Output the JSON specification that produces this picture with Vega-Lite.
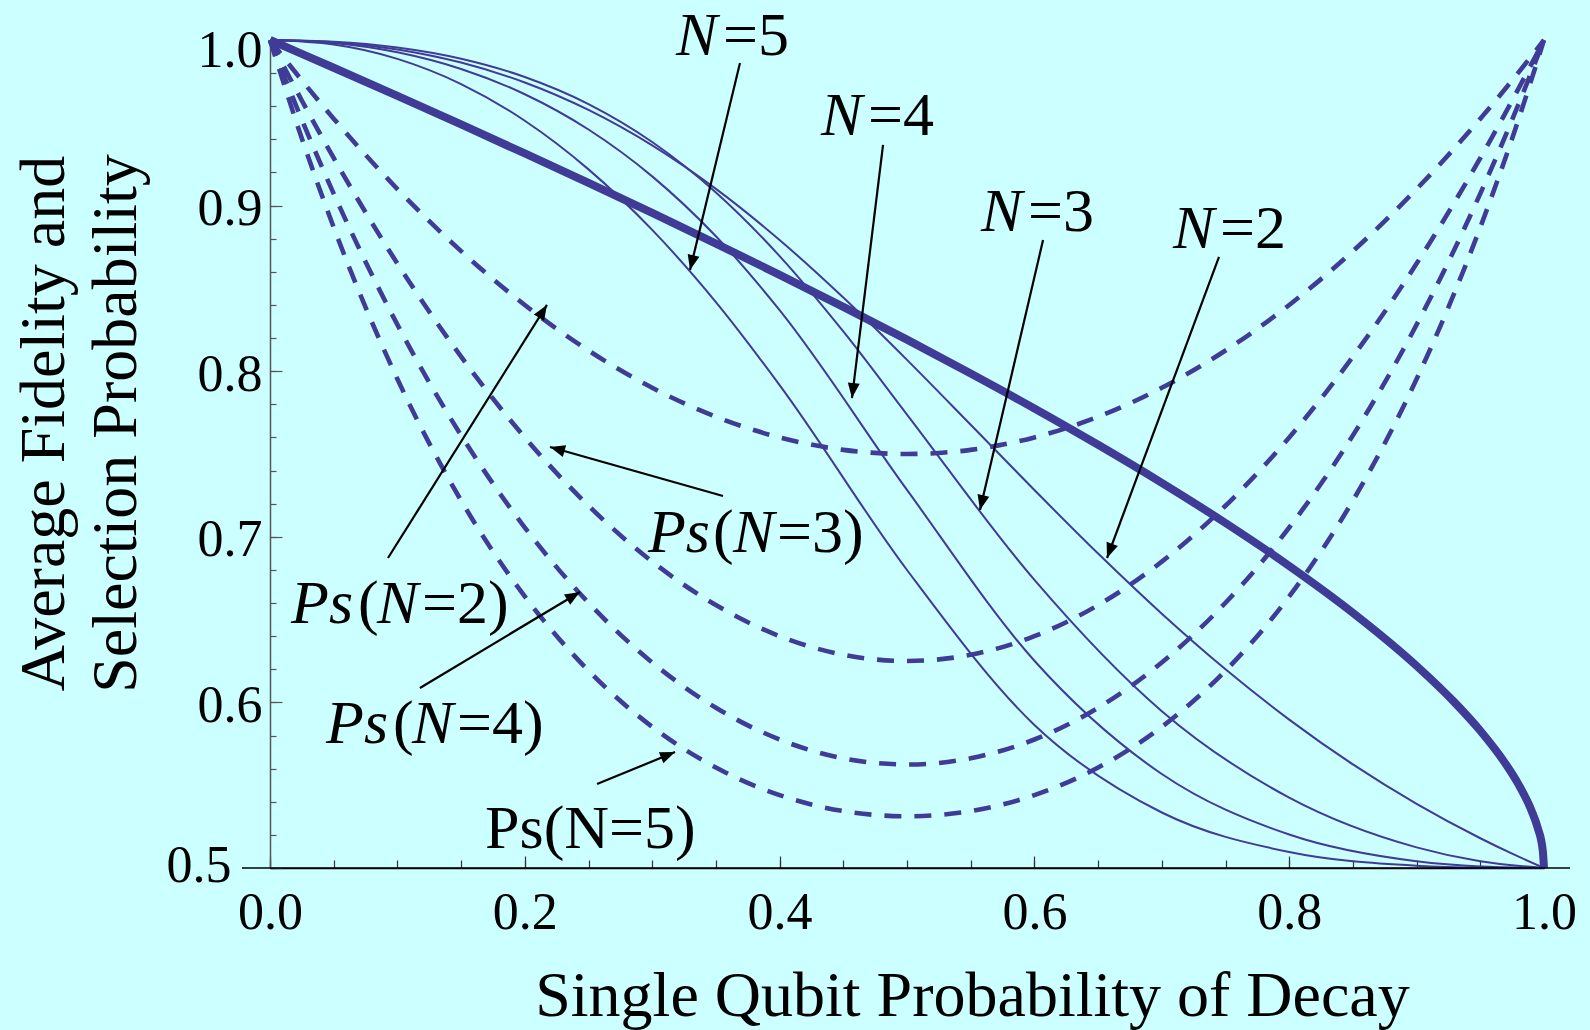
{
  "$schema": "https://vega.github.io/schema/vega-lite/v6.json",
  "width": 1274,
  "height": 828,
  "autosize": {"type": "none"},
  "padding": {"left": 270, "top": 40, "right": 46, "bottom": 162},
  "background": "#ccffff",
  "config": {"view": {"stroke": null}, "font": "Liberation Serif"},
  "datasets": {
    "fid1": [
      {"p":0,"F":1},{"p":0.025,"F":0.99164},{"p":0.05,"F":0.98323},{"p":0.1,"F":0.96623},{"p":0.15,"F":0.94899},{"p":0.2,"F":0.93148},{"p":0.25,"F":0.91368},{"p":0.3,"F":0.89555},{"p":0.35,"F":0.87708},{"p":0.4,"F":0.8582},{"p":0.45,"F":0.83887},{"p":0.5,"F":0.81904},{"p":0.55,"F":0.79861},{"p":0.6,"F":0.77749},{"p":0.65,"F":0.75554},{"p":0.7,"F":0.73257},{"p":0.75,"F":0.70833},{"p":0.8,"F":0.68241},{"p":0.85,"F":0.6541},{"p":0.9,"F":0.62208},{"p":0.93,"F":0.59986},{"p":0.95,"F":0.58287},{"p":0.97,"F":0.56274},{"p":0.98,"F":0.55047},{"p":0.99,"F":0.535},{"p":0.995,"F":0.5244},{"p":0.999,"F":0.51071},{"p":1,"F":0.5}
    ],
    "fidN": [
      {"N":2,"p":0,"F":1},{"N":2,"p":0.05,"F":0.99867},{"N":2,"p":0.1,"F":0.99431},{"N":2,"p":0.15,"F":0.98638},{"N":2,"p":0.2,"F":0.97435},{"N":2,"p":0.25,"F":0.95778},{"N":2,"p":0.3,"F":0.93636},{"N":2,"p":0.35,"F":0.91008},{"N":2,"p":0.4,"F":0.87922},{"N":2,"p":0.45,"F":0.84447},{"N":2,"p":0.5,"F":0.80685},{"N":2,"p":0.55,"F":0.76766},{"N":2,"p":0.6,"F":0.72824},{"N":2,"p":0.65,"F":0.68986},{"N":2,"p":0.7,"F":0.65354},{"N":2,"p":0.75,"F":0.61998},{"N":2,"p":0.8,"F":0.58961},{"N":2,"p":0.85,"F":0.56254},{"N":2,"p":0.9,"F":0.53873},{"N":2,"p":0.95,"F":0.51797},{"N":2,"p":0.975,"F":0.50864},{"N":2,"p":1,"F":0.5},
      {"N":3,"p":0,"F":1},{"N":3,"p":0.05,"F":0.99897},{"N":3,"p":0.1,"F":0.99544},{"N":3,"p":0.15,"F":0.98865},{"N":3,"p":0.2,"F":0.97764},{"N":3,"p":0.25,"F":0.96128},{"N":3,"p":0.3,"F":0.93838},{"N":3,"p":0.35,"F":0.90792},{"N":3,"p":0.4,"F":0.86952},{"N":3,"p":0.45,"F":0.824},{"N":3,"p":0.5,"F":0.77378},{"N":3,"p":0.6,"F":0.67396},{"N":3,"p":0.7,"F":0.59472},{"N":3,"p":0.8,"F":0.5425},{"N":3,"p":0.9,"F":0.51247},{"N":3,"p":0.95,"F":0.50404},{"N":3,"p":1,"F":0.5},
      {"N":4,"p":0,"F":1},{"N":4,"p":0.05,"F":0.99824},{"N":4,"p":0.1,"F":0.99261},{"N":4,"p":0.15,"F":0.98253},{"N":4,"p":0.2,"F":0.96723},{"N":4,"p":0.25,"F":0.94594},{"N":4,"p":0.3,"F":0.91765},{"N":4,"p":0.35,"F":0.88147},{"N":4,"p":0.4,"F":0.83685},{"N":4,"p":0.5,"F":0.72833},{"N":4,"p":0.6,"F":0.62516},{"N":4,"p":0.7,"F":0.55675},{"N":4,"p":0.8,"F":0.52021},{"N":4,"p":0.9,"F":0.50409},{"N":4,"p":0.95,"F":0.50092},{"N":4,"p":1,"F":0.5},
      {"N":5,"p":0,"F":1},{"N":5,"p":0.05,"F":0.99727},{"N":5,"p":0.1,"F":0.98861},{"N":5,"p":0.15,"F":0.9734},{"N":5,"p":0.2,"F":0.95123},{"N":5,"p":0.25,"F":0.92188},{"N":5,"p":0.3,"F":0.88533},{"N":5,"p":0.35,"F":0.84173},{"N":5,"p":0.4,"F":0.79161},{"N":5,"p":0.5,"F":0.67996},{"N":5,"p":0.6,"F":0.58638},{"N":5,"p":0.7,"F":0.53351},{"N":5,"p":0.8,"F":0.50964},{"N":5,"p":0.9,"F":0.50135},{"N":5,"p":0.95,"F":0.5002},{"N":5,"p":1,"F":0.5}
    ],
    "sel": [
      {"N":2,"p":0,"Ps":1},{"N":2,"p":0.025,"Ps":0.975625},{"N":2,"p":0.05,"Ps":0.9525},{"N":2,"p":0.1,"Ps":0.91},{"N":2,"p":0.15,"Ps":0.8725},{"N":2,"p":0.2,"Ps":0.84},{"N":2,"p":0.25,"Ps":0.8125},{"N":2,"p":0.3,"Ps":0.79},{"N":2,"p":0.35,"Ps":0.7725},{"N":2,"p":0.4,"Ps":0.76},{"N":2,"p":0.45,"Ps":0.7525},{"N":2,"p":0.5,"Ps":0.75},{"N":2,"p":0.55,"Ps":0.7525},{"N":2,"p":0.6,"Ps":0.76},{"N":2,"p":0.65,"Ps":0.7725},{"N":2,"p":0.7,"Ps":0.79},{"N":2,"p":0.75,"Ps":0.8125},{"N":2,"p":0.8,"Ps":0.84},{"N":2,"p":0.85,"Ps":0.8725},{"N":2,"p":0.9,"Ps":0.91},{"N":2,"p":0.95,"Ps":0.9525},{"N":2,"p":0.975,"Ps":0.975625},{"N":2,"p":1,"Ps":1},
      {"N":3,"p":0,"Ps":1},{"N":3,"p":0.025,"Ps":0.963438},{"N":3,"p":0.05,"Ps":0.92875},{"N":3,"p":0.1,"Ps":0.865},{"N":3,"p":0.15,"Ps":0.80875},{"N":3,"p":0.2,"Ps":0.76},{"N":3,"p":0.25,"Ps":0.71875},{"N":3,"p":0.3,"Ps":0.685},{"N":3,"p":0.35,"Ps":0.65875},{"N":3,"p":0.4,"Ps":0.64},{"N":3,"p":0.45,"Ps":0.62875},{"N":3,"p":0.5,"Ps":0.625},{"N":3,"p":0.55,"Ps":0.62875},{"N":3,"p":0.6,"Ps":0.64},{"N":3,"p":0.65,"Ps":0.65875},{"N":3,"p":0.7,"Ps":0.685},{"N":3,"p":0.75,"Ps":0.71875},{"N":3,"p":0.8,"Ps":0.76},{"N":3,"p":0.85,"Ps":0.80875},{"N":3,"p":0.9,"Ps":0.865},{"N":3,"p":0.95,"Ps":0.92875},{"N":3,"p":0.975,"Ps":0.963438},{"N":3,"p":1,"Ps":1},
      {"N":4,"p":0,"Ps":1},{"N":4,"p":0.025,"Ps":0.951844},{"N":4,"p":0.05,"Ps":0.907256},{"N":4,"p":0.1,"Ps":0.8281},{"N":4,"p":0.15,"Ps":0.761256},{"N":4,"p":0.2,"Ps":0.7056},{"N":4,"p":0.25,"Ps":0.660156},{"N":4,"p":0.3,"Ps":0.6241},{"N":4,"p":0.35,"Ps":0.596756},{"N":4,"p":0.4,"Ps":0.5776},{"N":4,"p":0.45,"Ps":0.566256},{"N":4,"p":0.5,"Ps":0.5625},{"N":4,"p":0.55,"Ps":0.566256},{"N":4,"p":0.6,"Ps":0.5776},{"N":4,"p":0.65,"Ps":0.596756},{"N":4,"p":0.7,"Ps":0.6241},{"N":4,"p":0.75,"Ps":0.660156},{"N":4,"p":0.8,"Ps":0.7056},{"N":4,"p":0.85,"Ps":0.761256},{"N":4,"p":0.9,"Ps":0.8281},{"N":4,"p":0.95,"Ps":0.907256},{"N":4,"p":0.975,"Ps":0.951844},{"N":4,"p":1,"Ps":1},
      {"N":5,"p":0,"Ps":1},{"N":5,"p":0.025,"Ps":0.940547},{"N":5,"p":0.05,"Ps":0.886891},{"N":5,"p":0.1,"Ps":0.79525},{"N":5,"p":0.15,"Ps":0.721891},{"N":5,"p":0.2,"Ps":0.664},{"N":5,"p":0.25,"Ps":0.619141},{"N":5,"p":0.3,"Ps":0.58525},{"N":5,"p":0.35,"Ps":0.560641},{"N":5,"p":0.4,"Ps":0.544},{"N":5,"p":0.45,"Ps":0.534391},{"N":5,"p":0.5,"Ps":0.53125},{"N":5,"p":0.55,"Ps":0.534391},{"N":5,"p":0.6,"Ps":0.544},{"N":5,"p":0.65,"Ps":0.560641},{"N":5,"p":0.7,"Ps":0.58525},{"N":5,"p":0.75,"Ps":0.619141},{"N":5,"p":0.8,"Ps":0.664},{"N":5,"p":0.85,"Ps":0.721891},{"N":5,"p":0.9,"Ps":0.79525},{"N":5,"p":0.95,"Ps":0.886891},{"N":5,"p":0.975,"Ps":0.940547},{"N":5,"p":1,"Ps":1}
    ],
    "axisline": [{"x1": -0.022, "x2": 1.0204, "y": 0.5}],
    "arrows": [
      {"x1":0.3689,"y1":0.9861,"x2":0.3297,"y2":0.8611},
      {"x1":0.4812,"y1":0.9366,"x2":0.4568,"y2":0.7838},
      {"x1":0.6068,"y1":0.8792,"x2":0.5573,"y2":0.7162},
      {"x1":0.7449,"y1":0.869,"x2":0.657,"y2":0.6872},
      {"x1":0.0926,"y1":0.6872,"x2":0.2174,"y2":0.84},
      {"x1":0.3556,"y1":0.7246,"x2":0.2198,"y2":0.7542},
      {"x1":0.1177,"y1":0.6087,"x2":0.2433,"y2":0.6667},
      {"x1":0.2567,"y1":0.5507,"x2":0.3179,"y2":0.57}
    ],
    "italicText": [
      {"x":0.3187,"y":0.99094,"t":"N"},
      {"x":0.4325,"y":0.94263,"t":"N"},
      {"x":0.5581,"y":0.88466,"t":"N"},
      {"x":0.7088,"y":0.8744,"t":"N"},
      {"x":0.2967,"y":0.69082,"t":"Ps"},{"x":0.3634,"y":0.69082,"t":"N"},
      {"x":0.0165,"y":0.64795,"t":"Ps"},{"x":0.084,"y":0.64795,"t":"N"},
      {"x":0.044,"y":0.57548,"t":"Ps"},{"x":0.1115,"y":0.57548,"t":"N"}
    ],
    "uprightText": [
      {"x":0.3556,"y":0.99094,"t":"=5"},
      {"x":0.4694,"y":0.94263,"t":"=4"},
      {"x":0.595,"y":0.88466,"t":"=3"},
      {"x":0.7457,"y":0.8744,"t":"=2"},
      {"x":0.3477,"y":0.69082,"t":"("},{"x":0.398,"y":0.69082,"t":"=3)"},
      {"x":0.0691,"y":0.64795,"t":"("},{"x":0.1193,"y":0.64795,"t":"=2)"},
      {"x":0.0965,"y":0.57548,"t":"("},{"x":0.1468,"y":0.57548,"t":"=4)"},
      {"x":0.1688,"y":0.51208,"t":"Ps(N=5)"}
    ]
  },
  "resolve": {"axis": {"x": "independent", "y": "independent"}},
  "layer": [
    {
      "data": {"name": "fidN"},
      "mark": {"type": "line", "color": "#3f3b96", "strokeWidth": 2, "interpolate": "monotone", "clip": false},
      "encoding": {
        "x": {"field": "p", "type": "quantitative", "scale": {"domain": [0, 1], "nice": false, "zero": false},
          "axis": {"orient": "bottom", "values": [0, 0.2, 0.4, 0.6, 0.8, 1], "format": ".1f", "ticks": false, "domain": false, "grid": false,
            "labelFont": "Liberation Serif", "labelFontSize": 52, "labelColor": "#000", "labelPadding": 19, "labelFlush": false, "labelOverlap": false,
            "title": "Single Qubit Probability of Decay", "titleFont": "Liberation Serif", "titleFontSize": 64, "titleFontWeight": "normal", "titleColor": "#000",
            "titleX": 702, "titleY": 147, "titleAlign": "center", "titleBaseline": "alphabetic"}},
        "y": {"field": "F", "type": "quantitative", "scale": {"domain": [0.5, 1], "nice": false, "zero": false},
          "axis": {"orient": "left", "values": [0.6, 0.7, 0.8, 0.9], "format": ".1f", "ticks": false, "domain": false, "grid": false,
            "labelFont": "Liberation Serif", "labelFontSize": 52, "labelColor": "#000", "labelPadding": 8, "labelFlush": false, "labelOffset": 3, "labelOverlap": false,
            "title": ["Average Fidelity and", "Selection Probability"], "titleFont": "Liberation Serif", "titleFontSize": 64, "titleFontWeight": "normal", "titleColor": "#000",
            "titleAngle": 270, "titleX": -207, "titleY": 383, "titleAlign": "center", "titleBaseline": "alphabetic", "titleLineHeight": 72}},
        "detail": {"field": "N", "type": "nominal"}
      }
    },
    {
      "data": {"name": "sel"},
      "mark": {"type": "line", "color": "#3f3b96", "strokeWidth": 4.6, "strokeDash": [17, 13], "interpolate": "monotone", "clip": false},
      "encoding": {
        "x": {"field": "p", "type": "quantitative",
          "axis": {"orient": "bottom", "values": [0,0.05,0.1,0.15,0.2,0.25,0.3,0.35,0.4,0.45,0.5,0.55,0.6,0.65,0.7,0.75,0.8,0.85,0.9,0.95,1], "labels": false, "ticks": true, "tickSize": -8, "tickColor": "#333", "tickWidth": 1.2, "domain": true, "domainColor": "#000", "domainWidth": 1.5, "grid": false, "title": null}},
        "y": {"field": "Ps", "type": "quantitative",
          "axis": {"orient": "left", "values": [0.5,0.52,0.54,0.56,0.58,0.6,0.62,0.64,0.66,0.68,0.7,0.72,0.74,0.76,0.78,0.8,0.82,0.84,0.86,0.88,0.9,0.92,0.94,0.96,0.98,1], "labels": false, "ticks": true, "tickSize": -6, "tickColor": "#555", "tickWidth": 1.2, "domain": true, "domainColor": "#555", "domainWidth": 1.5, "grid": false, "title": null}},
        "detail": {"field": "N", "type": "nominal"}
      }
    },
    {
      "data": {"name": "fid1"},
      "mark": {"type": "line", "color": "#3f3b96", "strokeWidth": 8, "interpolate": "monotone", "clip": false},
      "encoding": {
        "x": {"field": "p", "type": "quantitative",
          "axis": {"orient": "bottom", "values": [0, 0.2, 0.4, 0.6, 0.8, 1], "labels": false, "ticks": true, "tickSize": -12, "tickColor": "#333", "tickWidth": 1.2, "domain": false, "grid": false, "title": null}},
        "y": {"field": "F", "type": "quantitative",
          "axis": {"orient": "left", "values": [0.5, 0.6, 0.7, 0.8, 0.9, 1], "labels": false, "ticks": true, "tickSize": -12, "tickColor": "#555", "tickWidth": 1.2, "domain": false, "grid": false, "title": null}}
      }
    },
    {
      "data": {"name": "axisline"},
      "mark": {"type": "rule", "color": "#000", "strokeWidth": 1.5, "clip": false},
      "encoding": {
        "x": {"field": "x1", "type": "quantitative", "axis": null},
        "x2": {"field": "x2"},
        "y": {"field": "y", "type": "quantitative",
          "axis": {"orient": "left", "values": [1], "format": ".1f", "ticks": false, "domain": false, "grid": false,
            "labelFont": "Liberation Serif", "labelFontSize": 52, "labelColor": "#000", "labelPadding": 8, "labelFlush": false, "labelOffset": 10, "title": null}}
      }
    },
    {
      "data": {"name": "arrows"},
      "mark": {"type": "rule", "color": "#000", "strokeWidth": 2.2, "clip": false},
      "encoding": {
        "x": {"field": "x1", "type": "quantitative", "axis": null},
        "x2": {"field": "x2"},
        "y": {"field": "y1", "type": "quantitative",
          "axis": {"orient": "left", "values": [0.5], "format": ".1f", "ticks": false, "domain": false, "grid": false,
            "labelFont": "Liberation Serif", "labelFontSize": 52, "labelColor": "#000", "labelPadding": 39, "labelFlush": false, "labelOffset": -3, "title": null}},
        "y2": {"field": "y2"}
      }
    },
    {
      "data": {"name": "arrows"},
      "transform": [{"calculate": "atan2((datum.x2 - datum.x1) * 1274, (datum.y2 - datum.y1) * 1656) * 180 / PI", "as": "ang"}],
      "mark": {"type": "point", "shape": "M0,0L0.4,1L-0.4,1Z", "filled": true, "color": "#000", "opacity": 1, "size": 900, "strokeWidth": 0, "clip": false},
      "encoding": {
        "x": {"field": "x2", "type": "quantitative", "axis": null},
        "y": {"field": "y2", "type": "quantitative", "axis": null},
        "angle": {"field": "ang", "type": "quantitative", "scale": null}
      }
    },
    {
      "data": {"name": "italicText"},
      "mark": {"type": "text", "font": "Liberation Serif", "fontSize": 62, "fontStyle": "italic", "align": "left", "baseline": "alphabetic", "color": "#000", "clip": false},
      "encoding": {
        "x": {"field": "x", "type": "quantitative", "axis": null},
        "y": {"field": "y", "type": "quantitative", "axis": null},
        "text": {"field": "t"}
      }
    },
    {
      "data": {"name": "uprightText"},
      "mark": {"type": "text", "font": "Liberation Serif", "fontSize": 62, "align": "left", "baseline": "alphabetic", "color": "#000", "clip": false},
      "encoding": {
        "x": {"field": "x", "type": "quantitative", "axis": null},
        "y": {"field": "y", "type": "quantitative", "axis": null},
        "text": {"field": "t"}
      }
    }
  ]
}
